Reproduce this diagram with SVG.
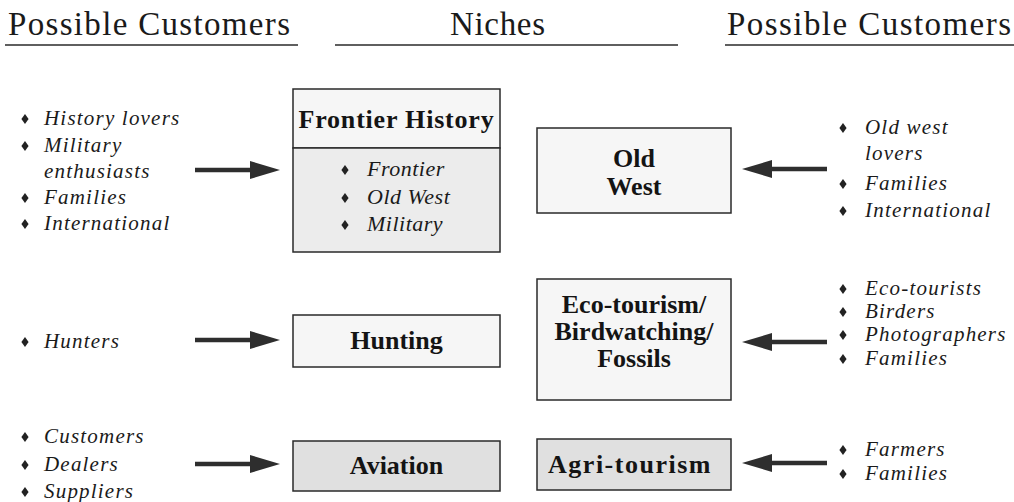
<svg xmlns="http://www.w3.org/2000/svg" xmlns:xlink="http://www.w3.org/1999/xlink" width="1014" height="502" viewBox="0 0 1014 502">
  <style>
    .hdr { font-family: "Liberation Serif", "Times New Roman", serif; font-size: 33px; fill: #1a1a1a; }
    .rule { stroke: #2a2a2a; stroke-width: 1.5; }
    .box { stroke: #2a2a2a; stroke-width: 1.5; }
    .light { fill: #f6f6f6; }
    .mid { fill: #ececec; }
    .dark { fill: #e0e0e0; }
    .title { font-family: "Liberation Serif", "Times New Roman", serif; font-size: 26px; font-weight: bold; fill: #141414; text-anchor: middle; }
    .item { font-family: "Liberation Serif", "Times New Roman", serif; font-size: 21px; font-style: italic; fill: #1a1a1a; letter-spacing: 1.2px; }
    .inner { font-family: "Liberation Serif", "Times New Roman", serif; font-size: 22px; font-style: italic; fill: #1a1a1a; letter-spacing: 0.5px; }
    .bullet { fill: #222; }
    .arrow { stroke: #2e2e2e; stroke-width: 4.5; fill: none; marker-end: url(#head); }
  </style>
  <defs>
    <marker id="head" viewBox="0 0 30 18" refX="5" refY="9" markerWidth="30" markerHeight="18" markerUnits="userSpaceOnUse" orient="auto">
      <path d="M0,0 L30,9 L0,18 Z" fill="#2e2e2e"/>
    </marker>
    <path id="dia" class="bullet" d="M0,-5 L3.6,0 L0,5 L-3.6,0 Z"/>
  </defs>

  <rect width="1014" height="502" fill="#ffffff"/>

  <!-- column headings -->
  <g id="headings">
    <text class="hdr" x="8" y="35" textLength="282" lengthAdjust="spacing">Possible Customers</text>
    <text class="hdr" x="450" y="35" textLength="95" lengthAdjust="spacing">Niches</text>
    <text class="hdr" x="727" y="35" textLength="284" lengthAdjust="spacing">Possible Customers</text>
    <line class="rule" x1="5" y1="45" x2="298" y2="45"/>
    <line class="rule" x1="335" y1="45" x2="678" y2="45"/>
    <line class="rule" x1="725" y1="45" x2="1014" y2="45"/>
  </g>

  <!-- niche boxes -->
  <g id="n-frontier">
    <rect class="box light" x="293" y="89" width="207" height="59"/>
    <rect class="box mid" x="293" y="148" width="207" height="104"/>
    <text class="title" x="396.5" y="128" letter-spacing="0.8">Frontier History</text>
    <use xlink:href="#dia" x="345" y="170"/>
    <text class="inner" x="367" y="176">Frontier</text>
    <use xlink:href="#dia" x="345" y="198"/>
    <text class="inner" x="367" y="204">Old West</text>
    <use xlink:href="#dia" x="345" y="225"/>
    <text class="inner" x="367" y="231">Military</text>
  </g>

  <g id="n-oldwest">
    <rect class="box light" x="537" y="128" width="194" height="85"/>
    <text class="title" x="634" y="167">Old</text>
    <text class="title" x="634" y="195">West</text>
  </g>

  <g id="n-hunting">
    <rect class="box light" x="293" y="315" width="207" height="52"/>
    <text class="title" x="396.5" y="349">Hunting</text>
  </g>

  <g id="n-eco">
    <rect class="box light" x="537" y="279" width="194" height="121"/>
    <text class="title" x="634" y="313">Eco-tourism/</text>
    <text class="title" x="634" y="340">Birdwatching/</text>
    <text class="title" x="634" y="367">Fossils</text>
  </g>

  <g id="n-aviation">
    <rect class="box dark" x="293" y="441" width="207" height="50"/>
    <text class="title" x="396.5" y="474">Aviation</text>
  </g>

  <g id="n-agri">
    <rect class="box dark" x="537" y="439" width="194" height="51"/>
    <text class="title" x="630" y="473" letter-spacing="1.5">Agri-tourism</text>
  </g>

  <!-- customer lists, left side -->
  <g id="c-frontier">
    <use xlink:href="#dia" x="25" y="119"/>
    <text class="item" x="44" y="125">History lovers</text>
    <use xlink:href="#dia" x="25" y="146"/>
    <text class="item" x="44" y="152">Military</text>
    <text class="item" x="44" y="178">enthusiasts</text>
    <use xlink:href="#dia" x="25" y="198"/>
    <text class="item" x="44" y="204">Families</text>
    <use xlink:href="#dia" x="25" y="224"/>
    <text class="item" x="44" y="230">International</text>
  </g>

  <g id="c-hunting">
    <use xlink:href="#dia" x="25" y="342"/>
    <text class="item" x="44" y="348">Hunters</text>
  </g>

  <g id="c-aviation">
    <use xlink:href="#dia" x="25" y="437"/>
    <text class="item" x="44" y="443">Customers</text>
    <use xlink:href="#dia" x="25" y="465"/>
    <text class="item" x="44" y="471">Dealers</text>
    <use xlink:href="#dia" x="25" y="492"/>
    <text class="item" x="44" y="498">Suppliers</text>
  </g>

  <!-- customer lists, right side -->
  <g id="c-oldwest">
    <use xlink:href="#dia" x="843" y="128"/>
    <text class="item" x="865" y="134">Old west</text>
    <text class="item" x="865" y="160">lovers</text>
    <use xlink:href="#dia" x="843" y="184"/>
    <text class="item" x="865" y="190">Families</text>
    <use xlink:href="#dia" x="843" y="211"/>
    <text class="item" x="865" y="217">International</text>
  </g>

  <g id="c-eco">
    <use xlink:href="#dia" x="843" y="289"/>
    <text class="item" x="865" y="295">Eco-tourists</text>
    <use xlink:href="#dia" x="843" y="312"/>
    <text class="item" x="865" y="318">Birders</text>
    <use xlink:href="#dia" x="843" y="335"/>
    <text class="item" x="865" y="341">Photographers</text>
    <use xlink:href="#dia" x="843" y="359"/>
    <text class="item" x="865" y="365">Families</text>
  </g>

  <g id="c-agri">
    <use xlink:href="#dia" x="843" y="450"/>
    <text class="item" x="865" y="456">Farmers</text>
    <use xlink:href="#dia" x="843" y="474"/>
    <text class="item" x="865" y="480">Families</text>
  </g>

  <!-- arrows from customer lists to niches -->
  <g id="connectors">
    <path class="arrow" d="M195,170 L255,170"/>
    <path class="arrow" d="M195,340 L255,340"/>
    <path class="arrow" d="M195,464 L255,464"/>
    <path class="arrow" d="M827,169 L767,169"/>
    <path class="arrow" d="M827,342 L767,342"/>
    <path class="arrow" d="M827,463 L767,463"/>
  </g>
</svg>
